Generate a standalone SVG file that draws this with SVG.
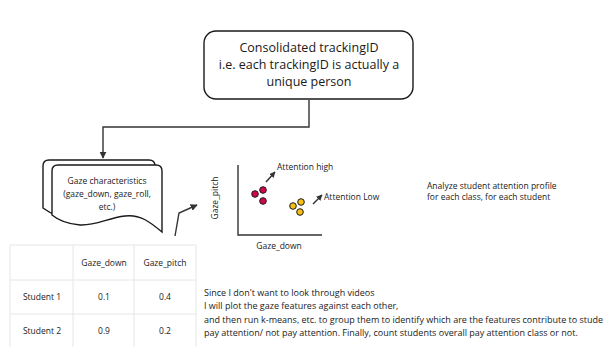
<svg xmlns="http://www.w3.org/2000/svg" width="603" height="347" viewBox="0 0 603 347">
<style>
text{font-family:"Open Sans","Noto Sans",sans-serif;fill:#1a1a1a}
.t{font-size:8.5px}
.n{font-size:9px}
.c{text-anchor:middle}
.big{font-size:12.5px}
.shape{fill:#fff;stroke:#1a1a1a;stroke-width:1.4}
.grid{stroke:#e6e6e6;stroke-width:1;fill:none}
.conn{fill:none;stroke:#333;stroke-width:1.4}
.red{fill:#d1064f;stroke:#1a1a1a;stroke-width:1}
.yel{fill:#f5be14;stroke:#1a1a1a;stroke-width:1}
</style>
<defs>
<marker id="ah" viewBox="0 0 10 10" refX="9" refY="5" markerWidth="7" markerHeight="7" orient="auto" markerUnits="userSpaceOnUse">
<path d="M0,0 L10,5 L0,10 z" fill="#333"/>
</marker>
<marker id="ah2" viewBox="0 0 10 10" refX="9" refY="5" markerWidth="6" markerHeight="6" orient="auto" markerUnits="userSpaceOnUse">
<path d="M0,0 L10,5 L0,10 z" fill="#333"/>
</marker>
</defs>

<g id="connectors">
<path class="conn" d="M309,100 V127 H103 V158" marker-end="url(#ah)"/>
<path class="conn" d="M175,236 L179,213 L197,205" marker-end="url(#ah)"/>
</g>

<g id="consolidated">
<rect class="shape" x="204" y="31" width="209" height="68" rx="12"/>
<text class="big c" x="309" y="52">Consolidated trackingID</text>
<text class="big c" x="309" y="69">i.e. each trackingID is actually a</text>
<text class="big c" x="309" y="86">unique person</text>
</g>

<g id="gaze-doc">
<path class="shape" d="M43,166 Q43,160 49,160 H149 Q155,160 155,166 V226 C143,216 133,208 118,210 C101,212 88,220 73,219 C61,218 51,214 43,208 Z"/>
<path class="shape" d="M52,171 Q52,165 58,165 H156 Q162,165 162,171 V232 C150,222 140,214 125,216 C108,218 95,226 80,225 C68,224 58,220 52,215 Z"/>
<text class="t c" x="107" y="184">Gaze characteristics</text>
<text class="t c" x="107" y="197">(gaze_down, gaze_roll,</text>
<text class="t c" x="107" y="210">etc.)</text>
</g>

<g id="plot">
<path d="M238,165 V235 H322" fill="none" stroke="#333" stroke-width="1.4"/>
<text class="t c" transform="translate(218,198) rotate(-90)">Gaze_pitch</text>
<text class="t c" x="279" y="249">Gaze_down</text>
<circle class="red" cx="255" cy="194" r="3.3"/>
<circle class="red" cx="263" cy="190" r="3.3"/>
<circle class="red" cx="263" cy="201" r="3.3"/>
<circle class="yel" cx="293" cy="206" r="3.3"/>
<circle class="yel" cx="301" cy="202" r="3.3"/>
<circle class="yel" cx="300" cy="212" r="3.3"/>
<line x1="266" y1="182" x2="275" y2="172" stroke="#333" stroke-width="1.5" marker-end="url(#ah2)"/>
<text class="t" x="277" y="170">Attention high</text>
<line x1="313" y1="204" x2="322" y2="195" stroke="#333" stroke-width="1.5" marker-end="url(#ah2)"/>
<text class="t" x="324" y="200">Attention Low</text>
</g>

<g id="analyze">
<text class="t" x="427" y="189">Analyze student attention profile</text>
<text class="t" x="427" y="200">for each class, for each student</text>
</g>

<g id="table">
<path class="grid" d="M10,245 H196 M10,280 H196 M10,314 H196 M10,245 V347 M73,245 V347 M134,245 V347 M196,245 V347"/>
<text class="t c" x="104" y="266">Gaze_down</text>
<text class="t c" x="165" y="266">Gaze_pitch</text>
<text class="t c" x="42" y="300">Student 1</text>
<text class="t c" x="104" y="300">0.1</text>
<text class="t c" x="165" y="300">0.4</text>
<text class="t c" x="42" y="334">Student 2</text>
<text class="t c" x="104" y="334">0.9</text>
<text class="t c" x="165" y="334">0.2</text>
</g>

<g id="note">
<text class="n" x="204" y="296">Since I don't want to look through videos</text>
<text class="n" x="204" y="309">I will plot the gaze features against each other,</text>
<text class="n" x="204" y="323">and then run k-means, etc. to group them to identify which are the features contribute to stude</text>
<text class="n" x="204" y="336">pay attention/ not pay attention. Finally, count students overall pay attention class or not.</text>
</g>
</svg>
